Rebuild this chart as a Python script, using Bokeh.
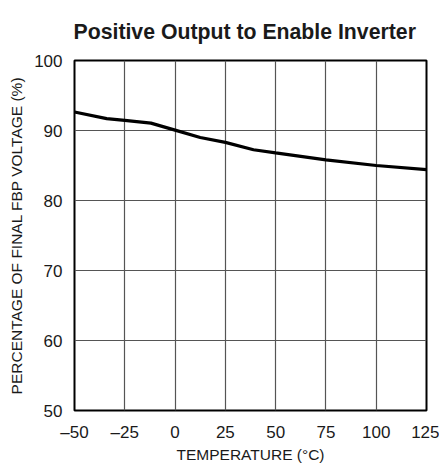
from bokeh.plotting import figure
from bokeh.models import Range1d, FixedTicker
from bokeh.embed import file_html
from bokeh.resources import INLINE

# Data
temperature = [-50, -34, -25, -12, 0, 12.5, 25, 39, 50, 75, 100, 125]
percentage = [92.65, 91.7, 91.45, 91.05, 90.05, 89.0, 88.3, 87.25, 86.8, 85.8, 85.0, 84.4]

x_ticks = [-50, -25, 0, 25, 50, 75, 100, 125]
x_tick_labels = ["\u201350", "\u201325", "0", "25", "50", "75", "100", "125"]
y_ticks = [50, 60, 70, 80, 90, 100]
y_tick_labels = ["50", "60", "70", "80", "90", "100"]

title_text = "Positive Output to Enable Inverter"

FONT = "Liberation Sans"

p = figure(width=439, height=465, output_backend="svg", toolbar_location=None,
           x_range=Range1d(x_ticks[0], x_ticks[-1]), y_range=Range1d(y_ticks[0], y_ticks[-1]),
           min_border_left=74, min_border_right=13, min_border_top=60, min_border_bottom=54)

p.line(temperature, percentage, line_color="black", line_width=3.2)

p.title.text = title_text
p.title.text_font = FONT
p.title.text_font_size = "21.25px"
p.title.text_font_style = "bold"
p.title.align = "left"
p.title.offset = -1
p.title.vertical_align = "bottom"
p.title.standoff = 34
p.title.text_color = "#1a1a1a"

p.xaxis.ticker = FixedTicker(ticks=x_ticks)
p.yaxis.ticker = FixedTicker(ticks=y_ticks)
p.xaxis.major_label_overrides = dict(zip(x_ticks, x_tick_labels))
p.yaxis.major_label_overrides = dict(zip(y_ticks, y_tick_labels))

p.xaxis.axis_label = "TEMPERATURE (\u00b0C)"
p.yaxis.axis_label = "PERCENTAGE OF FINAL FBP VOLTAGE (%)"

for ax in (p.xaxis, p.yaxis):
    ax.axis_line_color = None
    ax.major_tick_line_color = None
    ax.minor_tick_line_color = None
    ax.major_label_text_font = FONT
    ax.major_label_text_font_size = "17px"
    ax.major_label_text_color = "#1a1a1a"
    ax.axis_label_text_font = FONT
    ax.axis_label_text_font_size = "15.5px"
    ax.axis_label_text_font_style = "normal"
    ax.axis_label_text_color = "#1a1a1a"

p.xaxis.major_label_standoff = 6
p.xaxis.axis_label_standoff = 1
p.yaxis.major_label_standoff = 6
p.yaxis.axis_label_standoff = 6

p.xgrid.grid_line_color = "#555555"
p.ygrid.grid_line_color = "#555555"
p.xgrid.grid_line_width = 1.2
p.ygrid.grid_line_width = 1.2

p.outline_line_color = "black"
p.outline_line_width = 2
p.background_fill_color = "white"
p.border_fill_color = "white"

open("out.html", "w").write(file_html(p, INLINE))
